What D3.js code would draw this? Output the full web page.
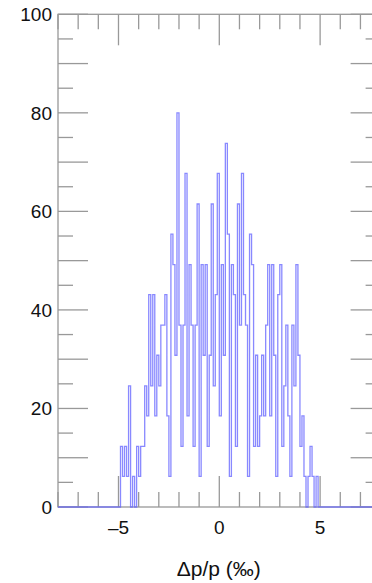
<!DOCTYPE html>
<html>
<head>
<meta charset="utf-8">
<script src="https://cdn.jsdelivr.net/npm/d3@7"></script>
<style>
  html, body { margin: 0; padding: 0; background: #fff; }
  svg { display: block; font-family: "Liberation Sans", Arial, Helvetica, sans-serif; }
</style>
</head>
<body>
<svg id="chart" width="372" height="583"></svg>
<script>
// Momentum spread histogram, 0.1‰ bins
const binStart = -4.9;   // lower edge of the first bin (‰)
const binWidth = 0.1;    // bin width (‰)
const binValues = [
  12.3, 6.2, 12.3, 6.2, 24.6, 0, 6.2, 0, 12.3, 6.2, 12.3, 12.3, 24.6, 18.5, 43.1, 24.6,
  43.1, 18.5, 30.8, 24.6, 36.9, 36.9, 43.1, 18.5, 6.2,
  55.4, 49.2, 30.8, 80, 36.9, 12.3, 36.9, 67.7, 18.5, 49.2, 36.9, 12.3, 36.9, 61.5, 6.2,
  49.2, 30.8, 49.2, 12.3, 30.8, 61.5, 24.6, 43.1, 67.7, 18.5, 49.2, 30.8,
  73.8, 55.4, 6.2, 49.2, 43.1, 12.3, 61.5, 36.9, 67.7, 43.1, 36.9, 6.2, 55.4, 49.2,
  12.3, 30.8, 12.3, 18.5, 30.8, 18.5, 36.9, 49.2, 18.5, 49.2, 30.8, 6.2, 43.1, 49.2,
  12.3, 24.6, 36.9, 18.5, 6.2, 36.9, 24.6, 49.2,
  30.8, 12.3, 18.5, 6.2, 0, 6.2, 12.3, 6.2, 0, 6.2
];
const xDomain = [-8, 8];
const yDomain = [0, 100];
const xTickLabels = [-5, 0, 5];
const yTickLabels = [0, 20, 40, 60, 80, 100];
const xTitle = "Δp/p (‰)";

const svg = d3.select("#chart");
const plotLeft = 58, plotRight = 380.6, plotTop = 14.3, plotBottom = 507;

const x = d3.scaleLinear().domain(xDomain).range([plotLeft, plotRight]);
const y = d3.scaleLinear().domain(yDomain).range([plotBottom, plotTop]);

const axisColor = "#999";
const g = svg.append("g");

// frame
g.append("rect")
  .attr("x", plotLeft).attr("y", plotTop)
  .attr("width", plotRight - plotLeft).attr("height", plotBottom - plotTop)
  .attr("fill", "none").attr("stroke", axisColor).attr("stroke-width", 1.3);

// x ticks every 1‰, long every 5‰, on bottom and top edges
const xMinor = d3.range(Math.ceil(xDomain[0]), xDomain[1] + 0.001, 1);
const xLen = v => (v % 5 === 0 ? 31 : 15);
g.selectAll(".xtb").data(xMinor).join("line")
  .attr("x1", d => x(d)).attr("x2", d => x(d))
  .attr("y1", plotBottom).attr("y2", d => plotBottom - xLen(d))
  .attr("stroke", axisColor).attr("stroke-width", 1.3);
g.selectAll(".xtt").data(xMinor).join("line")
  .attr("x1", d => x(d)).attr("x2", d => x(d))
  .attr("y1", plotTop).attr("y2", d => plotTop + xLen(d))
  .attr("stroke", axisColor).attr("stroke-width", 1.3);

// y ticks every 5, long every 10, on left and right edges
const yMinor = d3.range(yDomain[0], yDomain[1] + 0.001, 5);
const yLen = v => (v % 10 === 0 ? 30 : 15);
g.selectAll(".ytl").data(yMinor).join("line")
  .attr("x1", plotLeft).attr("x2", d => plotLeft + yLen(d))
  .attr("y1", d => y(d)).attr("y2", d => y(d))
  .attr("stroke", axisColor).attr("stroke-width", 1.3);
g.selectAll(".ytr").data(yMinor).join("line")
  .attr("x1", plotRight).attr("x2", d => plotRight - yLen(d))
  .attr("y1", d => y(d)).attr("y2", d => y(d))
  .attr("stroke", axisColor).attr("stroke-width", 1.3);

// tick labels
const fmt = v => (v < 0 ? "\u2013" + Math.abs(v) : String(v));
svg.selectAll(".xl").data(xTickLabels).join("text")
  .attr("x", d => x(d)).attr("y", 533.5)
  .attr("text-anchor", "middle")
  .attr("font-size", 19).attr("fill", "#111")
  .text(fmt);
svg.selectAll(".yl").data(yTickLabels).join("text")
  .attr("x", 52).attr("y", d => y(d)).attr("dy", "0.36em")
  .attr("text-anchor", "end")
  .attr("font-size", 19).attr("fill", "#111")
  .text(fmt);

svg.append("text")
  .attr("x", 218.7).attr("y", 576)
  .attr("text-anchor", "middle")
  .attr("font-size", 21).attr("fill", "#111")
  .text(xTitle);

// histogram as a step outline, running along zero outside the filled bins
const steps = [{ x: xDomain[0], y: 0 }];
binValues.forEach((v, i) => steps.push({ x: binStart + i * binWidth, y: v }));
steps.push({ x: binStart + binValues.length * binWidth, y: 0 });
steps.push({ x: xDomain[1], y: 0 });

const line = d3.line()
  .x(d => x(d.x))
  .y(d => y(d.y))
  .curve(d3.curveStepAfter);

svg.append("path")
  .datum(steps)
  .attr("d", line)
  .attr("fill", "none")
  .attr("stroke", "#6262ff")
  .attr("stroke-opacity", 0.75)
  .attr("stroke-width", 1.3);
</script>
</body>
</html>
